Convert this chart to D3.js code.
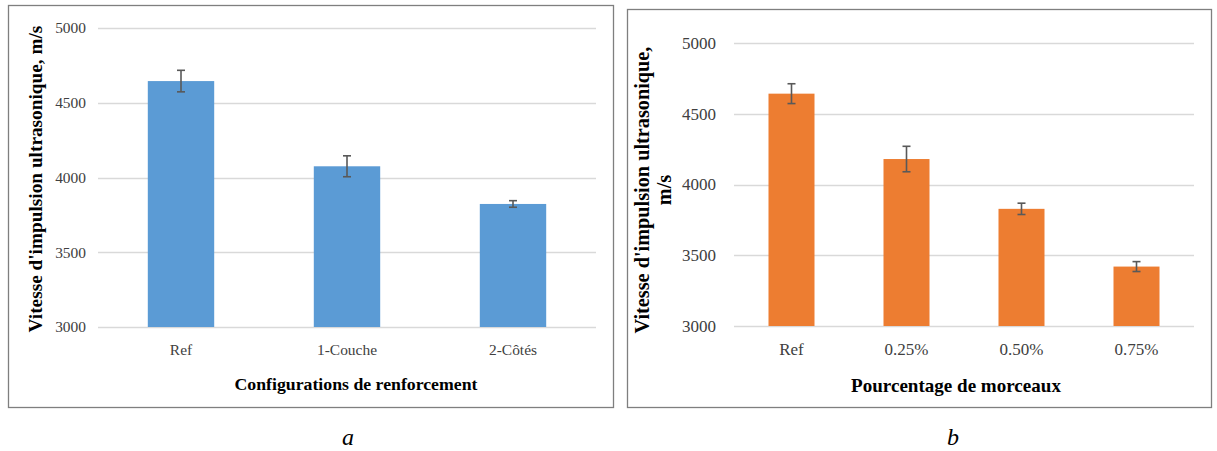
<!DOCTYPE html>
<html>
<head>
<meta charset="utf-8">
<script src="https://cdn.jsdelivr.net/npm/d3@7"></script>
<style>
  html, body { margin: 0; padding: 0; background: #fff; }
  svg { display: block; }
</style>
</head>
<body>
<svg id="chart" width="1217" height="451"></svg>
<script>
// ---- Data ----
const categoriesA = ["Ref", "1-Couche", "2-Côtés"];
const valuesA = [4645, 4075, 3823];
const errorsA = [72, 70, 22];

const categoriesB = ["Ref", "0.25%", "0.50%", "0.75%"];
const valuesB = [4642, 4180, 3828, 3420];
const errorsB = [70, 90, 40, 35];

const yTicks = [3000, 3500, 4000, 4500, 5000];
const yDomain = [3000, 5000];

const titleYA = ["Vitesse d'impulsion ultrasonique, m/s"];
const titleYB = ["Vitesse d'impulsion  ultrasonique,", "m/s"];
const titleXA = "Configurations de renforcement";
const titleXB = "Pourcentage de morceaux";
const captions = ["a", "b"];

const FONT = "'Times New Roman', Tinos, 'Liberation Serif', 'DejaVu Serif', serif";
const svg = d3.select("#chart");

// scale font-size so the text's first run spans the wanted length
function fit(textSel, measureNode, target) {
  const size = parseFloat(textSel.attr("font-size"));
  const L = measureNode.getComputedTextLength();
  if (L > 0) textSel.attr("font-size", size * target / L);
}

function drawChart(cfg) {
  const g = svg.append("g");
  g.append("rect")
    .attr("x", cfg.frame[0] + 0.5).attr("y", cfg.frame[1] + 0.5)
    .attr("width", cfg.frame[2] - cfg.frame[0]).attr("height", cfg.frame[3] - cfg.frame[1])
    .attr("fill", "#fff").attr("stroke", "#7f7f7f").attr("stroke-width", 1.3);

  const x = d3.scaleBand().domain(cfg.categories)
    .range([cfg.plot.x0, cfg.plot.x1]).paddingInner(0.6).paddingOuter(0.3);
  const y = d3.scaleLinear().domain(yDomain).range([cfg.plot.y0, cfg.plot.y1]);

  g.append("g").selectAll("line").data(yTicks).join("line")
    .attr("x1", cfg.plot.x0).attr("x2", cfg.plot.x1)
    .attr("y1", d => Math.round(y(d)) + 0.5).attr("y2", d => Math.round(y(d)) + 0.5)
    .attr("stroke", "#d9d9d9").attr("stroke-width", 1.3);

  g.append("g").selectAll("rect").data(cfg.values).join("rect")
    .attr("x", (d, i) => x(cfg.categories[i]))
    .attr("width", x.bandwidth())
    .attr("y", d => y(d))
    .attr("height", d => y(yDomain[0]) - y(d))
    .attr("fill", cfg.color);

  const eb = g.append("g").attr("stroke", "#595959").attr("stroke-width", 1.6);
  cfg.values.forEach((v, i) => {
    const cx = x(cfg.categories[i]) + x.bandwidth() / 2;
    const e = cfg.errors[i];
    eb.append("line").attr("x1", cx).attr("x2", cx).attr("y1", y(v + e)).attr("y2", y(v - e));
    eb.append("line").attr("x1", cx - 4).attr("x2", cx + 4).attr("y1", y(v + e)).attr("y2", y(v + e));
    eb.append("line").attr("x1", cx - 4).attr("x2", cx + 4).attr("y1", y(v - e)).attr("y2", y(v - e));
  });

  // x tick labels, size fitted to the reference label width
  const xAxis = d3.axisBottom(x).tickSize(0).tickPadding(0);
  const xa = g.append("g").attr("transform", `translate(0,${cfg.xLabelY})`).call(xAxis)
    .attr("font-family", FONT).attr("font-size", 14);
  xa.select(".domain").remove();
  xa.selectAll("text").style("fill", "#404040").attr("dy", 0);
  const probe = xa.selectAll("text").nodes()[cfg.fitTickIndex];
  const tickSize = 14 * cfg.fitTickLen / probe.getComputedTextLength();
  xa.attr("font-size", tickSize);

  const yAxis = d3.axisLeft(y).tickValues(yTicks).tickSize(0).tickPadding(0).tickFormat(d3.format("d"));
  const ya = g.append("g").attr("transform", `translate(${cfg.yLabelX},0)`).call(yAxis)
    .attr("font-family", FONT).attr("font-size", tickSize);
  ya.select(".domain").remove();
  ya.selectAll("text").style("fill", "#404040");

  const xt = g.append("text").attr("x", cfg.xTitlePos[0]).attr("y", cfg.xTitlePos[1])
    .attr("text-anchor", "middle").attr("font-weight", "bold").attr("font-family", FONT)
    .attr("font-size", 17).style("fill", "#000")
    .text(cfg.xTitle);
  fit(xt, xt.node(), cfg.xTitleLen);

  const yt = g.append("text")
    .attr("transform", `translate(${cfg.yTitlePos[0]},${cfg.yTitlePos[1]}) rotate(-90)`)
    .attr("text-anchor", "middle").attr("font-weight", "bold").attr("font-family", FONT)
    .attr("font-size", 17).style("fill", "#000");
  const spans = cfg.yTitle.map((t, i) =>
    yt.append("tspan").attr("x", 0).attr("dy", i === 0 ? 0 : "1.1em").text(t));
  fit(yt, spans[0].node(), cfg.yTitleLen);

  svg.append("text").attr("x", cfg.caption[0]).attr("y", cfg.caption[1])
    .attr("text-anchor", "middle").attr("font-style", "italic").attr("font-family", FONT)
    .attr("font-size", 24).style("fill", "#000")
    .text(cfg.captionText);
}

drawChart({
  frame: [8, 5, 613, 407],
  categories: categoriesA, values: valuesA, errors: errorsA,
  plot: { x0: 98, x1: 596, y0: 327, y1: 28 },
  color: "#5b9bd5",
  yLabelX: 86, xLabelY: 355, fitTickIndex: 1, fitTickLen: 60,
  xTitle: titleXA, xTitlePos: [356, 390], xTitleLen: 243,
  yTitle: titleYA, yTitlePos: [42, 179], yTitleLen: 307,
  caption: [348, 445], captionText: captions[0]
});

drawChart({
  frame: [627, 9, 1211, 407],
  categories: categoriesB, values: valuesB, errors: errorsB,
  plot: { x0: 734, x1: 1194, y0: 326, y1: 43 },
  color: "#ed7d31",
  yLabelX: 716, xLabelY: 355, fitTickIndex: 1, fitTickLen: 44,
  xTitle: titleXB, xTitlePos: [956, 392], xTitleLen: 210,
  yTitle: titleYB, yTitlePos: [649, 190], yTitleLen: 287,
  caption: [953, 445], captionText: captions[1]
});
</script>
</body>
</html>
